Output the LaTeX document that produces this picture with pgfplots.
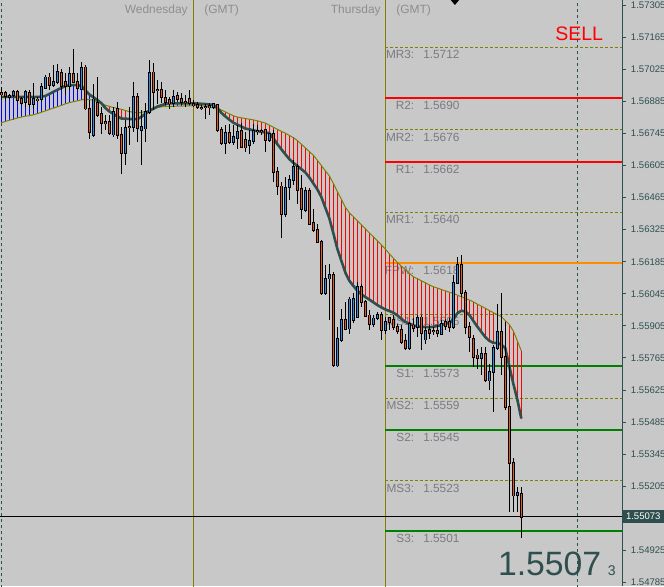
\documentclass[border=0pt]{standalone}
\usepackage{pgfplots}
\pgfplotsset{compat=1.18}
\usepackage{pgfplotstable}
\usepackage{fontspec}
\setmainfont{Liberation Sans}

\definecolor{bg}{HTML}{C8C8C8}
\definecolor{slate}{HTML}{2F4F4F}
\definecolor{olivel}{HTML}{808000}
\definecolor{upc}{HTML}{2D8CE6}
\definecolor{dnc}{HTML}{E8581C}
\definecolor{pivgreen}{HTML}{008000}
\definecolor{pivorange}{HTML}{FF8C00}
\definecolor{lbl}{HTML}{7A7A82}
\definecolor{daytxt}{HTML}{8E8E8E}

% M30 bars, index i (48 bars a day)
\pgfplotstableread{
i o h l c
3 1.56915 1.56934 1.56905 1.56927
6 1.56880 1.56934 1.56861 1.56924
8 1.56872 1.56965 1.56854 1.56895
10 1.56894 1.56963 1.56883 1.56949
11 1.56944 1.57000 1.56942 1.56990
13 1.56956 1.57043 1.56949 1.56972
14 1.56970 1.57048 1.56963 1.57016
17 1.56952 1.57036 1.56934 1.57004
20 1.56940 1.57058 1.56934 1.57033
23 1.56738 1.56963 1.56730 1.56894
28 1.56741 1.56861 1.56730 1.56839
31 1.56662 1.56803 1.56607 1.56771
33 1.56774 1.56970 1.56752 1.56905
35 1.56760 1.56847 1.56607 1.56774
36 1.56767 1.56876 1.56709 1.56839
37 1.56839 1.57065 1.56832 1.57011
43 1.56879 1.56934 1.56861 1.56905
53 1.56859 1.56879 1.56854 1.56873
56 1.56702 1.56781 1.56658 1.56748
58 1.56709 1.56781 1.56694 1.56730
59 1.56726 1.56781 1.56680 1.56752
62 1.56694 1.56760 1.56658 1.56713
63 1.56713 1.56789 1.56702 1.56755
67 1.56716 1.56748 1.56709 1.56742
71 1.56396 1.56556 1.56381 1.56509
72 1.56509 1.56563 1.56454 1.56541
73 1.56541 1.56629 1.56520 1.56599
76 1.56413 1.56512 1.56403 1.56495
81 1.56049 1.56170 1.56039 1.56112
82 1.56112 1.56178 1.55930 1.56127
84 1.55734 1.55901 1.55726 1.55850
85 1.55846 1.55981 1.55836 1.55933
87 1.55894 1.56032 1.55872 1.56021
88 1.55930 1.56047 1.55916 1.56025
89 1.55945 1.56097 1.55938 1.56076
93 1.55913 1.55952 1.55901 1.55938
94 1.55938 1.55966 1.55930 1.55952
96 1.55890 1.55945 1.55872 1.55923
102 1.55807 1.55923 1.55802 1.55913
104 1.55901 1.55952 1.55857 1.55942
106 1.55846 1.55901 1.55828 1.55883
110 1.55872 1.55930 1.55865 1.55916
113 1.55901 1.56127 1.55894 1.56095
114 1.56093 1.56207 1.56090 1.56170
120 1.55767 1.55814 1.55690 1.55782
122 1.55668 1.55741 1.55625 1.55705
123 1.55705 1.55821 1.55530 1.55807
124 1.55807 1.56003 1.55799 1.55879
129 1.55166 1.55203 1.55093 1.55178
}\candlesUp

\pgfplotstableread{
i o h l c
0 1.56921 1.56947 1.56890 1.56917
1 1.56922 1.56934 1.56890 1.56911
2 1.56908 1.56920 1.56898 1.56906
4 1.56927 1.56934 1.56883 1.56890
5 1.56895 1.56905 1.56869 1.56880
7 1.56924 1.56934 1.56861 1.56872
9 1.56894 1.56905 1.56883 1.56892
12 1.56990 1.57007 1.56934 1.56956
15 1.57011 1.57025 1.56934 1.56952
16 1.56972 1.57007 1.56912 1.56952
18 1.57004 1.57112 1.56966 1.56970
19 1.56970 1.57007 1.56934 1.56942
21 1.57033 1.57043 1.56847 1.56854
22 1.56854 1.56890 1.56723 1.56752
24 1.56880 1.56992 1.56818 1.56825
25 1.56829 1.56861 1.56745 1.56793
26 1.56793 1.56825 1.56760 1.56791
27 1.56793 1.56825 1.56738 1.56745
29 1.56854 1.56883 1.56723 1.56741
30 1.56741 1.56774 1.56571 1.56662
32 1.56774 1.56861 1.56694 1.56771
34 1.56905 1.56921 1.56709 1.56767
38 1.57011 1.57051 1.56847 1.56927
39 1.56937 1.56978 1.56876 1.56935
40 1.56937 1.56970 1.56876 1.56905
41 1.56902 1.56934 1.56869 1.56883
42 1.56890 1.56905 1.56854 1.56876
44 1.56908 1.56927 1.56883 1.56894
45 1.56894 1.56920 1.56869 1.56883
46 1.56883 1.56912 1.56861 1.56882
47 1.56894 1.56934 1.56869 1.56879
48 1.56873 1.56890 1.56861 1.56871
49 1.56869 1.56883 1.56854 1.56859
50 1.56858 1.56869 1.56847 1.56856
51 1.56862 1.56876 1.56811 1.56860
52 1.56864 1.56876 1.56825 1.56862
54 1.56872 1.56876 1.56752 1.56760
55 1.56760 1.56774 1.56694 1.56702
57 1.56748 1.56789 1.56702 1.56709
60 1.56757 1.56789 1.56680 1.56687
61 1.56716 1.56752 1.56665 1.56684
64 1.56757 1.56781 1.56738 1.56754
65 1.56755 1.56763 1.56738 1.56753
66 1.56760 1.56764 1.56665 1.56716
68 1.56745 1.56760 1.56534 1.56578
69 1.56578 1.56599 1.56476 1.56515
70 1.56515 1.56534 1.56291 1.56396
74 1.56599 1.56614 1.56440 1.56498
75 1.56505 1.56563 1.56374 1.56418
77 1.56495 1.56505 1.56349 1.56352
78 1.56355 1.56418 1.56316 1.56323
79 1.56323 1.56349 1.56268 1.56272
80 1.56272 1.56279 1.56039 1.56049
83 1.56127 1.56141 1.55726 1.55734
86 1.55933 1.56010 1.55887 1.55890
90 1.56076 1.56090 1.55988 1.56010
91 1.56010 1.56018 1.55945 1.55948
92 1.55952 1.55974 1.55890 1.55913
95 1.55952 1.55966 1.55846 1.55887
97 1.55939 1.55945 1.55887 1.55923
98 1.55933 1.55952 1.55887 1.55901
99 1.55901 1.55916 1.55872 1.55883
100 1.55887 1.55908 1.55828 1.55836
101 1.55840 1.55872 1.55799 1.55807
103 1.55908 1.55938 1.55879 1.55898
105 1.55942 1.55952 1.55799 1.55872
107 1.55887 1.55908 1.55850 1.55875
108 1.55883 1.55901 1.55865 1.55882
109 1.55883 1.55908 1.55857 1.55875
111 1.55923 1.55938 1.55887 1.55904
112 1.55922 1.55938 1.55879 1.55901
115 1.56170 1.56214 1.56032 1.56047
116 1.56047 1.56061 1.55872 1.55901
117 1.55901 1.55923 1.55792 1.55857
118 1.55850 1.55865 1.55726 1.55770
119 1.55777 1.55807 1.55719 1.55767
121 1.55782 1.55814 1.55661 1.55668
125 1.55879 1.56049 1.55690 1.55770
126 1.55770 1.55923 1.55537 1.55552
127 1.55552 1.55734 1.55093 1.55307
128 1.55307 1.55327 1.55093 1.55166
130 1.55174 1.55203 1.54982 1.55073
}\candlesDn

% fast (f) and slow (s) moving averages
\pgfplotstableread{
i f s
0 1.56904 1.56791
1 1.56904 1.56797
2 1.56904 1.56802
3 1.56904 1.56807
4 1.56904 1.56812
5 1.56904 1.56816
6 1.56904 1.56820
7 1.56904 1.56822
8 1.56904 1.56826
9 1.56904 1.56831
10 1.56905 1.56837
11 1.56908 1.56843
12 1.56917 1.56849
13 1.56926 1.56855
14 1.56935 1.56861
15 1.56943 1.56867
16 1.56952 1.56874
17 1.56954 1.56879
18 1.56956 1.56883
19 1.56955 1.56887
20 1.56953 1.56891
21 1.56933 1.56894
22 1.56915 1.56892
23 1.56903 1.56890
24 1.56891 1.56883
25 1.56877 1.56876
26 1.56856 1.56868
27 1.56841 1.56863
28 1.56830 1.56858
29 1.56819 1.56854
30 1.56810 1.56850
31 1.56809 1.56845
32 1.56808 1.56840
33 1.56807 1.56838
34 1.56807 1.56835
35 1.56817 1.56836
36 1.56830 1.56841
37 1.56843 1.56846
38 1.56853 1.56849
39 1.56862 1.56857
40 1.56868 1.56861
41 1.56873 1.56862
42 1.56876 1.56863
43 1.56876 1.56863
44 1.56876 1.56864
45 1.56876 1.56864
46 1.56876 1.56865
47 1.56876 1.56865
48 1.56876 1.56866
49 1.56875 1.56866
50 1.56874 1.56866
51 1.56873 1.56863
52 1.56871 1.56860
53 1.56870 1.56857
54 1.56856 1.56855
55 1.56835 1.56847
56 1.56819 1.56839
57 1.56805 1.56830
58 1.56792 1.56822
59 1.56783 1.56816
60 1.56775 1.56813
61 1.56766 1.56810
62 1.56763 1.56807
63 1.56758 1.56804
64 1.56755 1.56800
65 1.56752 1.56795
66 1.56749 1.56790
67 1.56746 1.56781
68 1.56724 1.56772
69 1.56698 1.56763
70 1.56676 1.56754
71 1.56654 1.56746
72 1.56633 1.56736
73 1.56617 1.56727
74 1.56603 1.56714
75 1.56589 1.56698
76 1.56575 1.56682
77 1.56553 1.56666
78 1.56527 1.56650
79 1.56501 1.56628
80 1.56468 1.56605
81 1.56421 1.56582
82 1.56375 1.56560
83 1.56310 1.56527
84 1.56242 1.56492
85 1.56190 1.56458
86 1.56138 1.56423
87 1.56102 1.56399
88 1.56080 1.56382
89 1.56059 1.56364
90 1.56043 1.56347
91 1.56031 1.56329
92 1.56020 1.56311
93 1.56008 1.56294
94 1.55996 1.56277
95 1.55986 1.56259
96 1.55977 1.56240
97 1.55970 1.56220
98 1.55963 1.56201
99 1.55951 1.56182
100 1.55936 1.56166
101 1.55922 1.56151
102 1.55915 1.56135
103 1.55907 1.56119
104 1.55903 1.56111
105 1.55901 1.56102
106 1.55900 1.56093
107 1.55899 1.56084
108 1.55901 1.56076
109 1.55905 1.56070
110 1.55908 1.56064
111 1.55914 1.56058
112 1.55919 1.56052
113 1.55933 1.56047
114 1.55960 1.56039
115 1.55971 1.56032
116 1.55968 1.56025
117 1.55953 1.56018
118 1.55927 1.56010
119 1.55902 1.56000
120 1.55879 1.55991
121 1.55856 1.55982
122 1.55840 1.55972
123 1.55831 1.55963
124 1.55831 1.55954
125 1.55823 1.55946
126 1.55808 1.55928
127 1.55729 1.55911
128 1.55653 1.55883
129 1.55584 1.55840
130 1.55501 1.55796
}\maTab

\tikzset{
  pivlbl/.style={font=\fontsize{8.4}{10}\selectfont, text=lbl, inner sep=0pt, yshift=-2.875mm},
  daylbl/.style={font=\fontsize{8.5}{10}\selectfont, text=daytxt, inner sep=0pt},
  pivdash/.style={olivel, line width=0.25mm, dash pattern=on 0.75mm off 0.5mm},
}

\newcommand\pivot[4]{%
  \addplot[#4] coordinates {(95.925,#3) (155.175,#3)};
  \node[pivlbl, anchor=base east] at (axis cs:103.3,#3) {#1:};
  \node[pivlbl, anchor=base west] at (axis cs:105.425,#3) {#2};
}

\newcommand\hatch[2]{% #1 domain, #2 colour
  \addplot[draw=none, mark=none, restrict x to domain=#1, error bars/.cd, y dir=both, y explicit, error mark=none,
    error bar style={draw=#2, line width=0.25mm}]
    table[x=i, y expr=(\thisrow{f}+\thisrow{s})/2, y error expr=abs(\thisrow{f}-\thisrow{s})/2] {\maTab};
}

\newcommand\candles[2]{% #1 table, #2 body colour
  \addplot[draw=none, mark=none, error bars/.cd, y dir=both, y explicit, error mark=none,
    error bar style={draw=black, line width=0.25mm}]
    table[x=i, y expr=(\thisrow{h}+\thisrow{l})/2, y error expr=(\thisrow{h}-\thisrow{l})/2] {#1};
  \addplot[draw=none, mark=none, error bars/.cd, y dir=both, y explicit, error mark=-,
    error mark options={rotate=90, draw=black, line width=0.45mm, mark size=0.375mm},
    error bar style={draw=black, line width=0.75mm}]
    table[x=i, y expr=(\thisrow{o}+\thisrow{c})/2, y error expr=abs(\thisrow{o}-\thisrow{c})/2] {#1};
  \addplot[draw=none, mark=none, error bars/.cd, y dir=both, y explicit, error mark=none,
    error bar style={draw=#2, line width=0.3mm}]
    table[x=i, y expr=(\thisrow{o}+\thisrow{c})/2, y error expr=abs(\thisrow{o}-\thisrow{c})/2] {#1};
}

\begin{document}
\begin{tikzpicture}
\fill[bg] (0,0) rectangle (166mm,146.5mm);
\begin{axis}[
  at={(0,0)}, anchor=south west,
  scale only axis, width=155.5mm, height=146.5mm,
  xmin=-0.325, xmax=155.175,
  ymin=1.54770, ymax=1.57327,
  axis x line=none,
  axis y line*=right,
  y axis line style={-, slate, line width=0.25mm},
  xtick=\empty,
  ytick={1.57305,1.57165,1.57025,1.56885,1.56745,1.56605,1.56465,1.56325,1.56185,1.56045,1.55905,1.55765,1.55625,1.55485,1.55345,1.55205,1.54925,1.54785},
  tick align=outside,
  major tick length=1mm,
  ytick style={slate, line width=0.25mm},
  yticklabel style={font=\fontsize{6.8}{8}\selectfont, text=slate,
    /pgf/number format/.cd, fixed, fixed zerofill, precision=5, assume math mode=true},
]
% period separators
\addplot[slate, line width=0.25mm, dash pattern=on 0.8mm off 0.7mm] coordinates {(-0.075,1.54) (-0.075,1.58)};
\addplot[olivel, line width=0.25mm] coordinates {(47.925,1.54) (47.925,1.58)};
\addplot[olivel, line width=0.25mm] coordinates {(95.925,1.54) (95.925,1.58)};
\addplot[slate, line width=0.25mm, dash pattern=on 0.8mm off 0.7mm] coordinates {(143.925,1.54) (143.925,1.58)};

% pivot levels
\pivot{MR3}{1.5712}{1.5712}{pivdash}
\pivot{R2}{1.5690}{1.5690}{red, line width=0.5mm}
\pivot{MR2}{1.5676}{1.5676}{pivdash}
\pivot{R1}{1.5662}{1.5662}{red, line width=0.5mm}
\pivot{MR1}{1.5640}{1.5640}{pivdash}
\pivot{FPW}{1.5618}{1.5618}{pivorange, line width=0.5mm}
\pivot{MS1}{1.5595}{1.55955}{pivdash}
\pivot{S1}{1.5573}{1.5573}{pivgreen, line width=0.5mm}
\pivot{MS2}{1.5559}{1.5559}{pivdash}
\pivot{S2}{1.5545}{1.5545}{pivgreen, line width=0.5mm}
\pivot{MS3}{1.5523}{1.5523}{pivdash}
\pivot{S3}{1.5501}{1.5501}{pivgreen, line width=0.5mm}

\node[daylbl, anchor=base east] at (axis cs:46.675,1.57266) {Wednesday};
\node[daylbl, anchor=base west] at (axis cs:50.675,1.57266) {(GMT)};
\node[daylbl, anchor=base east] at (axis cs:94.925,1.57266) {Thursday};
\node[daylbl, anchor=base west] at (axis cs:98.675,1.57266) {(GMT)};

% hatch between the averages
\hatch{0:24}{blue}
\hatch{38:54}{blue}
\hatch{25:37}{red}
\hatch{55:130}{red}

\addplot[olivel, line width=0.25mm] table[x=i, y=s] {\maTab};
\addplot[slate, line width=0.65mm, line join=round] table[x=i, y=f] {\maTab};

% current price
\addplot[black, line width=0.25mm] coordinates {(-0.325,1.55073) (155.175,1.55073)};

% candles: wicks, outlines, fills
\candles{\candlesUp}{upc}
\candles{\candlesDn}{dnc}

\node[font=\fontsize{13.9}{16}\selectfont, text=red, inner sep=0pt, anchor=base west] at (axis cs:138.425,1.57152) {SELL};
\node[font=\fontsize{24}{28}\selectfont, text=slate, inner sep=0pt, anchor=base east] at (axis cs:150.05,1.54817) {1.5507};
\node[font=\fontsize{10}{12}\selectfont, text=slate, inner sep=0pt, anchor=base west] at (axis cs:151.55,1.54817) {3};

\draw[slate, line width=0.25mm] (rel axis cs:0,1) -- (rel axis cs:1,1);
\coordinate (pb) at (axis cs:155.175,1.55073);
\coordinate (tri) at (axis cs:113.4,1.57327);
\end{axis}
\node[fill=slate, text=white, font=\fontsize{6.8}{8}\selectfont, inner sep=0pt, anchor=west,
  minimum width=10.5mm, minimum height=3.4mm] at (pb) {1.55073};
\fill[black, shift={(tri)}] (-1.05mm,0) -- (1.05mm,0) -- (0,-1.25mm) -- cycle;
\pgfresetboundingbox
\path (0,0) rectangle (166mm,146.5mm);
\end{tikzpicture}
\end{document}
